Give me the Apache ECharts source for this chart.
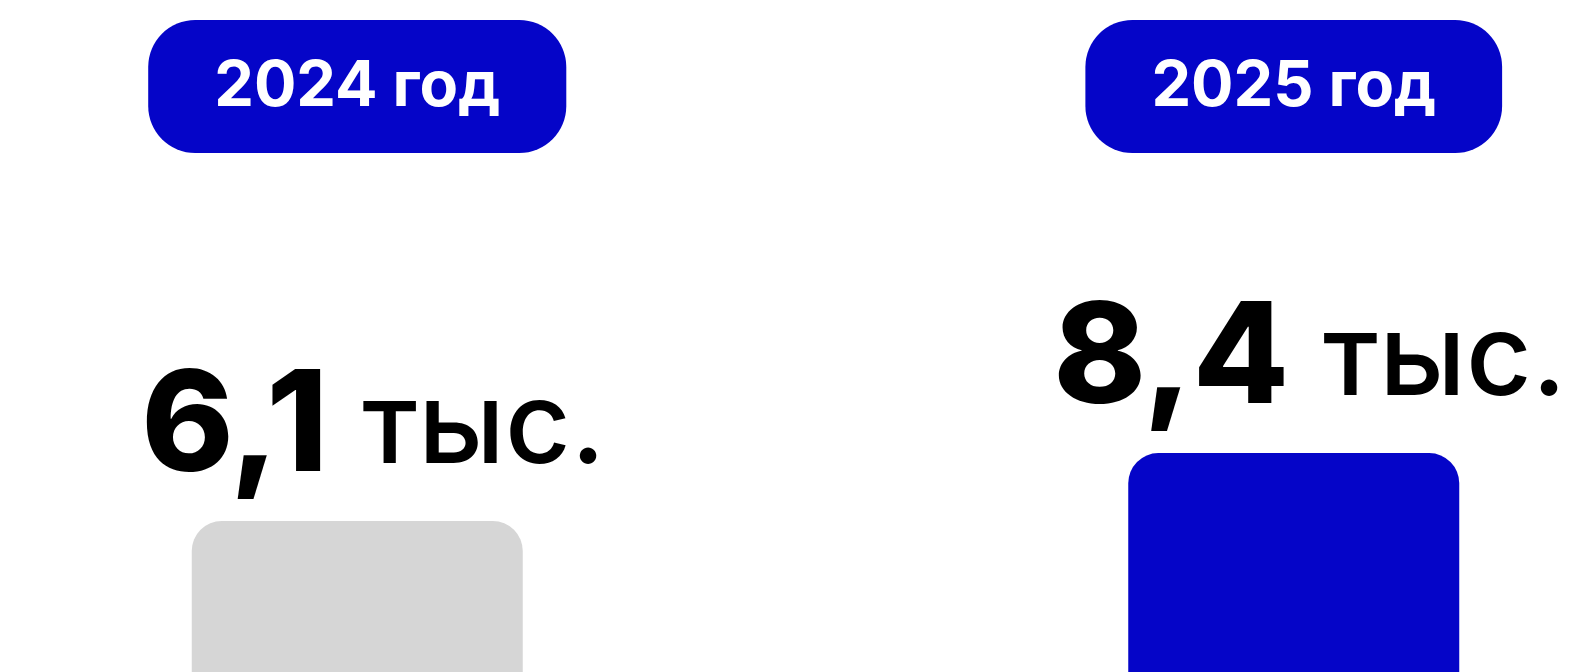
<!DOCTYPE html>
<html>
<head>
<meta charset="utf-8">
<script src="https://cdn.jsdelivr.net/npm/echarts@6/dist/echarts.min.js"></script>
<style>
    html, body { margin: 0; padding: 0; background: #fff; overflow: hidden; }
    #chart { width: 1584px; height: 672px; }
</style>
</head>
<body>
<div id="chart"></div>
<script>
// данные
var years = ['2024 год', '2025 год'];
var values = [6.1, 8.4];
var unit = 'тыс.';
var barColors = ['#D6D6D6', '#0505C8'];

var myChart = echarts.init(document.getElementById('chart'));

var option = {
    backgroundColor: '#fff',
    animation: false,
    grid: {
        outerBoundsMode: 'none',
        left: -111,
        width: 1873,
        top: 158,
        bottom: -29
    },
    xAxis: {
        type: 'category',
        position: 'top',
        data: years,
        axisLine: {show: false},
        axisTick: {show: false},
        axisLabel: {
            margin: 5,
            color: '#fff',
            fontFamily: 'Inter',
            fontWeight: 700,
            fontSize: 63,
            lineHeight: 70,
            backgroundColor: '#0505C8',
            borderRadius: 47,
            padding: [32, 66, 31, 66]
        }
    },
    yAxis: {
        type: 'value',
        min: 0,
        max: 18.4,
        show: false,
        splitLine: {show: false}
    },
    series: [{
        type: 'bar',
        barWidth: 331,
        data: values.map(function (v, i) {
            return {value: v, itemStyle: {color: barColors[i]}};
        }),
        itemStyle: {
            borderRadius: [30, 30, 0, 0]
        },
        label: {
            show: true,
            position: 'top',
            distance: 17,
            offset: [16, 0],
            formatter: function (p) {
                return '{n|' + String(p.value).replace('.', ',') + '}{u|' + unit + '}';
            },
            rich: {
                n: {
                    fontFamily: 'Inter',
                    fontWeight: 800,
                    fontSize: 140,
                    color: '#000',
                    lineHeight: 150
                },
                u: {
                    fontFamily: 'Inter',
                    fontWeight: 500,
                    fontSize: 114,
                    color: '#000',
                    lineHeight: 150,
                    padding: [0, 0, 0, 34]
                }
            }
        }
    }]
};

myChart.setOption(option);
window.addEventListener('resize', function () {
    myChart.resize();
});
</script>
</body>
</html>
